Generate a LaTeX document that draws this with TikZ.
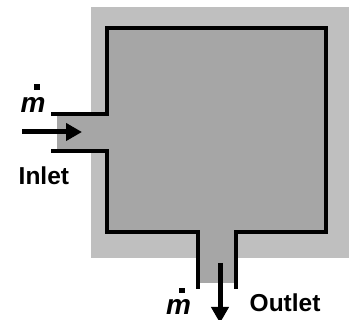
\documentclass[tikz,border=0pt]{standalone}
\usepackage{fontspec}
\setmainfont{Liberation Sans}
\usetikzlibrary{arrows.meta}
\definecolor{wallgray}{HTML}{BFBFBF}
\definecolor{fluidgray}{HTML}{A6A6A6}
\tikzset{
  wall/.style={draw=black,line width=4pt,line join=miter},
  flow/.style={draw=black,line width=5pt,-{Triangle[length=16pt,width=17pt]}},
  label/.style={inner sep=0pt,anchor=base west,font=\bfseries\fontsize{24.5}{26}\selectfont},
  mlabel/.style={inner sep=0pt,anchor=base,font=\bfseries\itshape\fontsize{28}{30}\selectfont},
  dotmark/.style={fill=black,draw=none}
}
\begin{document}
\begin{tikzpicture}[x=1pt,y=-1pt]
\useasboundingbox (0,0) rectangle (349,320);
\fill[wallgray] (91,7) rectangle (349,258);
\fill[fluidgray] (107,28) -- (326,28) -- (326,232) -- (236,232) -- (236,283) -- (198,283)
  -- (198,232) -- (107,232) -- (107,151) -- (57,151) -- (57,114) -- (107,114) -- cycle;
\draw[wall] (51,114) -- (107,114) -- (107,28) -- (326,28) -- (326,232) -- (236,232) -- (236,289);
\draw[wall] (51,151) -- (107,151) -- (107,232) -- (198,232) -- (198,289);
\coordinate (inA) at (22,132);
\coordinate (inB) at (82,132);
\coordinate (outA) at (220,263);
\coordinate (outB) at (220,323);
\draw[flow] (inA) -- (inB);
\draw[flow] (outA) -- (outB);
\node[mlabel] (m1) at (33,113) {m};
\fill[dotmark] (34,84) rectangle (39.5,90);
\node[mlabel] (m2) at (178.5,315) {m};
\fill[dotmark] (179,288) rectangle (185,293.5);
\node[label] (inlet) at (18.5,185) {Inlet};
\node[label] (outlet) at (249.5,311.5) {Outlet};
\end{tikzpicture}
\end{document}
